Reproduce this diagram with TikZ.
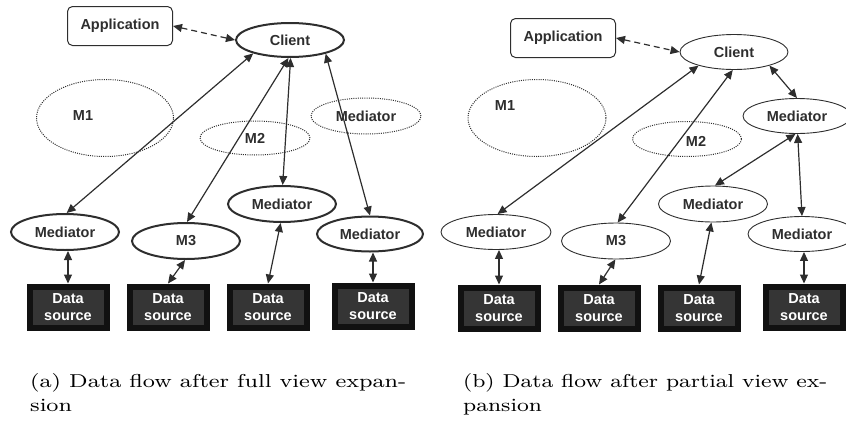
\documentclass[tikz,border=0pt]{standalone}
\usepackage{fontspec}
\newfontfamily\dfont{Liberation Sans}
\usetikzlibrary{arrows.meta,shapes.geometric}
\definecolor{ink}{HTML}{2E2E2E}
\definecolor{dsout}{HTML}{111111}
\definecolor{dsin}{HTML}{353535}
\begin{document}
\begin{tikzpicture}[x=1pt,y=-1pt,
  lbl/.style={font=\dfont\bfseries\fontsize{14.5}{17}\selectfont, text=ink},
  ell/.style={ellipse, draw=ink, inner sep=0pt, lbl},
  thk/.style={ell, line width=2pt},
  thn/.style={ell, line width=0.9pt},
  dotell/.style={ellipse, draw=ink, dash pattern=on 1pt off 1.2pt, line width=1pt, inner sep=0pt, lbl},
  appbox/.style={rectangle, rounded corners=5pt, draw=ink, line width=1pt, minimum width=105pt, minimum height=39pt, lbl},
  dsbox/.style={rectangle, draw=dsout, fill=dsin, line width=6pt, minimum width=77pt, minimum height=41pt, inner sep=0pt, align=center, font=\dfont\bfseries\fontsize{14.5}{16.7}\selectfont, text=white},
  link/.style={draw=ink, line width=1.2pt, {Triangle[length=9pt,width=8pt]}-{Triangle[length=9pt,width=8pt]}},
  dlink/.style={link, dash pattern=on 6pt off 4pt},
  captext/.style={anchor=base west, inner sep=0pt, font=\rmfamily\fontsize{8}{9.6}\selectfont}
]
\useasboundingbox (0,0) rectangle (846,426);

% ---------------- panel (a)
\node[appbox] (appA) at (120,26) {Application};
\node[thk, minimum width=108pt, minimum height=34pt] (cliA) at (290,40) {Client};
\node[dotell, minimum width=137pt, minimum height=77pt] (m1A) at (105,118) {};
\node[lbl] (m1Al) at (83,116) {M1};
\node[dotell, minimum width=110pt, minimum height=34pt] (m2A) at (255,138) {M2};
\node[dotell, minimum width=110pt, minimum height=36pt] (mdA) at (366,116) {Mediator};
\node[thk, minimum width=108pt, minimum height=36pt] (mmA) at (282,204) {Mediator};
\node[thk, minimum width=108pt, minimum height=36pt] (mlA) at (65,232) {Mediator};
\node[thk, minimum width=108pt, minimum height=36pt] (m3A) at (186,241) {M3};
\node[thk, minimum width=106pt, minimum height=35pt] (mrA) at (370,234) {Mediator};
\node[dsbox] (dA1) at (68,307) {Data\\source};
\node[dsbox] (dA2) at (168,307) {Data\\source};
\node[dsbox] (dA3) at (268,307) {Data\\source};
\node[dsbox] (dA4) at (373,306) {Data\\source};

\draw[dlink] (appA.east) -- (cliA.west);
\draw[link] (cliA.200) -- (mlA.85);
\draw[link] (cliA.265) -- (m3A.87);
\draw[link] (cliA.272) -- (mmA.88);
\draw[link] (cliA.339) -- (mrA.90);
\draw[link] (dA1.north |- mlA.south) -- (dA1.north);
\draw[link] (m3A.267) -- (dA2.north);
\draw[link] (mmA.266) -- (dA3.north);
\draw[link] (dA4.north |- mrA.south) -- (dA4.north);

% ---------------- panel (b)
\node[appbox] (appB) at (563,38) {Application};
\node[thn, minimum width=108pt, minimum height=35pt] (cliB) at (734,52) {Client};
\node[dotell, minimum width=138pt, minimum height=77pt] (m1B) at (537,118) {};
\node[lbl] (m1Bl) at (505,106) {M1};
\node[dotell, minimum width=109pt, minimum height=35pt] (m2B) at (687,139) {};
\node[lbl] (m2Bl) at (696,141) {M2};
\node[thn, minimum width=108pt, minimum height=35pt] (mtB) at (797,116) {Mediator};
\node[thn, minimum width=109pt, minimum height=36pt] (mmB) at (713,204) {Mediator};
\node[thn, minimum width=110pt, minimum height=35pt] (mlB) at (496,232) {Mediator};
\node[thn, minimum width=109pt, minimum height=36pt] (m3B) at (616,241) {M3};
\node[thn, minimum width=108pt, minimum height=35pt] (mrB) at (802,234) {Mediator};
\node[dsbox] (dB1) at (499,308) {Data\\source};
\node[dsbox] (dB2) at (599,308) {Data\\source};
\node[dsbox] (dB3) at (699,308) {Data\\source};
\node[dsbox] (dB4) at (804,307) {Data\\source};

\draw[dlink] (appB.east) -- (cliB.west);
\draw[link] (cliB.201) -- (mlB.85);
\draw[link] (cliB.266) -- (m3B.85);
\draw[link] (cliB.339) -- (mtB.90);
\draw[link] (mtB.265) -- (mmB.84);
\draw[link] (mtB.272) -- (mrB.90);
\draw[link] (dB1.north |- mlB.south) -- (dB1.north);
\draw[link] (m3B.268) -- (dB2.north);
\draw[link] (mmB.265) -- (dB3.north);
\draw[link] (dB4.north |- mrB.south) -- (dB4.north);

% ---------------- captions
\node[captext] (capA1) at (30,387) {\resizebox{376pt}{14pt}{(a) Data flow after full view expan-}};
\node[captext] (capA2) at (30,411) {\resizebox{376pt}{14pt}{\rlap{sion}\phantom{(a) Data flow after full view expan-}}};
\node[captext] (capB1) at (463,387) {\resizebox{364pt}{14pt}{(b) Data flow after partial view ex-}};
\node[captext] (capB2) at (463,411) {\resizebox{364pt}{14pt}{\rlap{pansion}\phantom{(b) Data flow after partial view ex-}}};
\end{tikzpicture}
\end{document}
